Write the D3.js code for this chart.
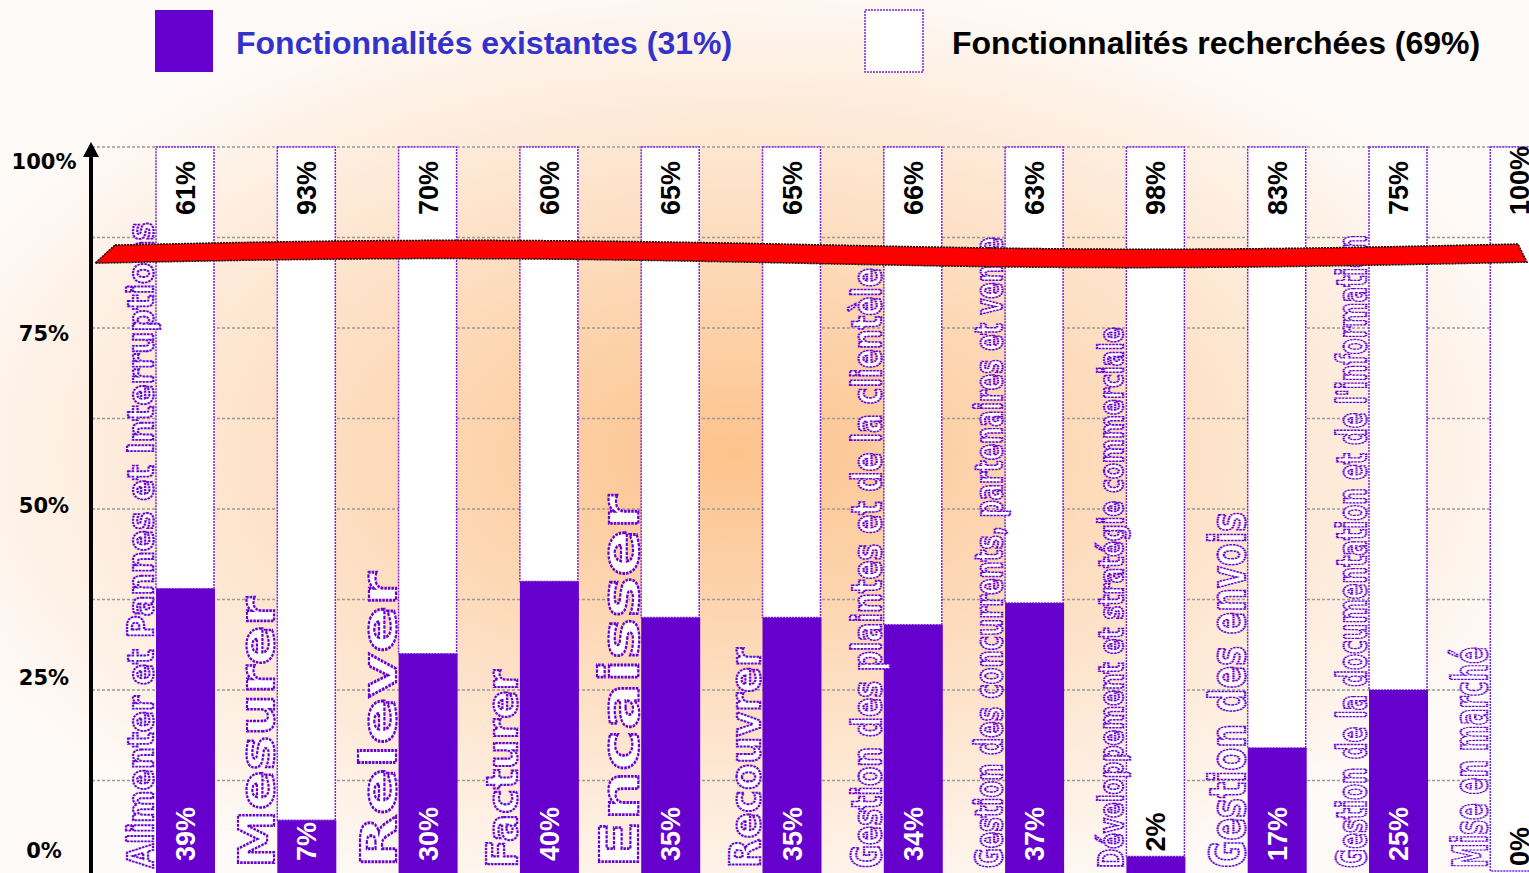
<!DOCTYPE html>
<html>
<head>
<meta charset="utf-8">
<script src="https://cdn.jsdelivr.net/npm/d3@7"></script>
<style>
  html, body { margin: 0; padding: 0; background: #fefaf7; }
  svg { display: block; }
</style>
</head>
<body>
<div id="chart"></div>
<script>
// categories (x axis) and the two stacked series, in percent
const categories = [
    "Alimenter et Pannes et Interruptions",
    "Mesurer",
    "Relever",
    "Facturer",
    "Encaisser",
    "Recouvrer",
    "Gestion des plaintes et de la clientèle",
    "Gestion des concurrents, partenaires et vente",
    "Développement et stratégie commerciale",
    "Gestion des envois",
    "Gestion de la documentation et de l'information",
    "Mise en marché"
];
const existantes = [39, 7, 30, 40, 35, 35, 34, 37, 2, 17, 25, 0];
const recherchees = [61, 93, 70, 60, 65, 65, 66, 63, 98, 83, 75, 100];
const yTicks = [0, 25, 50, 75, 100];
const gridValues = [12.5, 25, 37.5, 50, 62.5, 75, 87.5, 100];
const legendLabels = ["Fonctionnalités existantes (31%)", "Fonctionnalités recherchées (69%)"];

;(function () {
    const width = 1529, height = 873;
    const purple = "#6600cc", outline = "#7a22e0";

    const svg = d3.select("#chart")
        .append("svg")
        .attr("width", width)
        .attr("height", height);

    const defs = svg.append("defs");
    const grad = defs.append("radialGradient")
        .attr("id", "bg")
        .attr("cx", "0.48").attr("cy", "0.52").attr("r", "0.55");
    grad.append("stop").attr("offset", "0").attr("stop-color", "#fcc38c");
    grad.append("stop").attr("offset", "0.45").attr("stop-color", "#fddcbd");
    grad.append("stop").attr("offset", "1").attr("stop-color", "#fefaf7");

    svg.append("rect")
        .attr("width", width).attr("height", height)
        .attr("fill", "url(#bg)");

    // scales
    const x = d3.scaleBand().domain(categories).range([97, 97 + 12 * 121.3]);
    const y = d3.scaleLinear().domain([0, 100]).range([871, 147]);
    const yLabel = d3.scaleLinear().domain([0, 100]).range([850, 161]); // tick text positions
    const barOff = 59, barW = 58;

    // gridlines
    svg.append("g")
        .selectAll("line")
        .data(gridValues)
        .join("line")
        .attr("x1", 92).attr("x2", width)
        .attr("y1", d => y(d)).attr("y2", d => y(d))
        .attr("stroke", "#9a9a9a")
        .attr("stroke-width", 1.5)
        .attr("stroke-dasharray", "3,2");

    const rows = categories.map((c, i) => ({ cat: c, a: existantes[i], b: recherchees[i] }));

    // white "recherchées" boxes
    svg.append("g")
        .selectAll("rect")
        .data(rows)
        .join("rect")
        .attr("x", d => x(d.cat) + barOff)
        .attr("y", d => y(d.a + d.b))
        .attr("width", barW)
        .attr("height", d => y(d.a) - y(d.a + d.b))
        .attr("fill", "#ffffff")
        .attr("stroke", outline)
        .attr("stroke-width", 1.5)
        .attr("stroke-dasharray", "2,1");

    // purple "existantes" bars
    svg.append("g")
        .selectAll("rect")
        .data(rows.filter(d => d.a > 0))
        .join("rect")
        .attr("x", d => x(d.cat) + barOff)
        .attr("y", d => y(d.a))
        .attr("width", barW + 1)
        .attr("height", d => height - y(d.a))
        .attr("fill", purple);

    // category labels, outlined text in the gap left of each bar
    const labelFit = [[35, 646], [50, 271], [50, 296], [42, 198], [54, 373], [42, 220],
                      [40, 600], [37, 631], [33, 541], [50, 356], [41, 633], [48, 221]];
    svg.append("g")
        .selectAll("text")
        .data(rows)
        .join("text")
        .attr("transform", d => "translate(" + (x(d.cat) + 56) + "," + 868 + ") rotate(-90)")
        .attr("font-family", "'DejaVu Sans', Verdana, sans-serif")
        .attr("font-weight", "bold")
        .attr("font-size", (d, i) => labelFit[i][0])
        .attr("textLength", (d, i) => labelFit[i][1])
        .attr("lengthAdjust", "spacingAndGlyphs")
        .attr("fill", "#ffffff")
        .attr("stroke", "#6a00d6")
        .attr("stroke-width", 2.2)
        .attr("stroke-dasharray", "2.5,1")
        .text(d => d.cat);

    const valFont = "'Liberation Sans', Arial, sans-serif";

    // top values (recherchées)
    svg.append("g")
        .selectAll("text")
        .data(rows)
        .join("text")
        .attr("transform", d => "translate(" + (x(d.cat) + barOff + barW / 2 + 10) + "," + (y(100) + 68) + ") rotate(-90)")
        .attr("font-family", valFont)
        .attr("font-weight", "bold")
        .attr("font-size", 27)
        .attr("fill", "#000")
        .text(d => d.b + "%");

    // bottom values (existantes)
    svg.append("g")
        .selectAll("text")
        .data(rows)
        .join("text")
        .attr("transform", d => {
            const yy = d.a < 5 ? y(d.a) - 5 : y(0) - 10;
            return "translate(" + (x(d.cat) + barOff + barW / 2 + 10) + "," + yy + ") rotate(-90)";
        })
        .attr("font-family", valFont)
        .attr("font-weight", "bold")
        .attr("font-size", 27)
        .attr("fill", d => d.a < 5 ? "#000" : "#fff")
        .text(d => d.a + "%");

    // axis break ribbon
    const breakTop = [[115, 86.45], [400, 87.3], [700, 86.9], [1000, 85.9], [1250, 85.8], [1518, 86.6]];
    const breakBottom = [[1527, 84.1], [1250, 83.3], [1000, 83.3], [700, 84.3], [400, 84.8], [95, 83.96]];
    const line = d3.line().x(d => d[0]).y(d => y(d[1])).curve(d3.curveBasis);
    const ribbon = line(breakTop) + "L" + line(breakBottom).slice(1) + "Z";
    svg.append("path")
        .attr("d", ribbon)
        .attr("fill", "#ff0000")
        .attr("stroke", "#000")
        .attr("stroke-width", 1.5)
        .attr("stroke-dasharray", "2,1");

    // y axis with arrow
    svg.append("line")
        .attr("x1", 91).attr("x2", 91)
        .attr("y1", height).attr("y2", 152)
        .attr("stroke", "#000").attr("stroke-width", 4);
    svg.append("path")
        .attr("d", "M83,157 L91,142 L99,157 Z")
        .attr("fill", "#000");

    svg.append("g")
        .selectAll("text")
        .data(yTicks)
        .join("text")
        .attr("x", 44)
        .attr("y", d => yLabel(d) + 7.5)
        .attr("text-anchor", "middle")
        .attr("font-family", "'DejaVu Sans', Verdana, sans-serif")
        .attr("font-weight", "bold")
        .attr("font-size", 21)
        .attr("fill", "#000")
        .text(d => d + "%");

    // legend
    const legend = svg.append("g");
    legend.append("rect")
        .attr("x", 155).attr("y", 10).attr("width", 58).attr("height", 62)
        .attr("fill", purple);
    legend.append("text")
        .attr("x", 236).attr("y", 54)
        .attr("font-family", valFont)
        .attr("font-weight", "bold")
        .attr("font-size", 32)
        .attr("fill", "#3333cc")
        .text(legendLabels[0]);
    legend.append("rect")
        .attr("x", 865).attr("y", 10).attr("width", 58).attr("height", 62)
        .attr("fill", "#fff")
        .attr("stroke", outline)
        .attr("stroke-width", 1.5)
        .attr("stroke-dasharray", "2,1");
    legend.append("text")
        .attr("x", 952).attr("y", 54)
        .attr("font-family", valFont)
        .attr("font-weight", "bold")
        .attr("font-size", 32)
        .attr("fill", "#000")
        .text(legendLabels[1]);
})()
</script>
</body>
</html>
